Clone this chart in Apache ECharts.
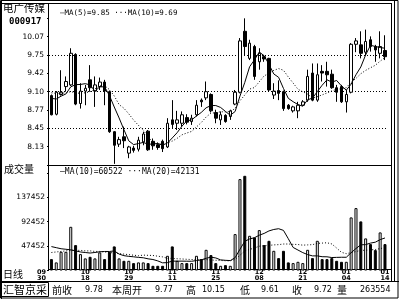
<!DOCTYPE html>
<html><head><meta charset="utf-8">
<script src="https://cdn.jsdelivr.net/npm/echarts@6/dist/echarts.min.js"></script>
<style>html,body{margin:0;padding:0;background:#fff;overflow:hidden}#c{width:399px;height:299px}</style>
</head><body><div id="c"></div>
<script>
// ---- data ----
const opens  = [9.03,8.70,9.05,9.19,9.22,9.76,8.89,9.11,9.31,9.11, 9.19,9.27,9.10,8.39,8.17,8.30,8.01,8.10,8.08,8.21, 8.40,8.22,8.16,8.22,8.12,8.60,8.54,8.54,8.64,8.57, 8.69,8.95,8.99,9.05,8.73,8.60,8.68,8.66,8.88,9.09, 10.17,9.69,9.90,9.63,9.72,9.69,9.04,9.12,9.10,8.86, 8.76,8.76,8.86,8.95,9.43,8.95,9.46,9.46,9.41,9.17, 9.19,8.92,9.09,9.94,9.93,9.80,10.02,9.90,9.78,9.83];
const closes = [8.69,9.09,9.09,9.28,9.78,8.88,9.11,9.16,9.17,9.22, 9.27,9.11,8.39,8.15,8.25,8.23,8.12,8.06,8.24,8.35, 8.07,8.14,8.11,8.09,8.54,8.52,8.60,8.69,8.56,8.63, 8.86,8.92,9.10,8.76,8.63,8.69,8.57,8.76,9.09,10.00, 9.90,9.96,9.37,9.78,9.68,9.13,9.11,9.07,8.80,8.80, 8.83,8.86,8.92,9.37,8.95,9.40,9.43,9.40,9.17,9.09, 8.92,9.05,9.94,10.00,9.78,9.99,9.90,9.84,9.90,9.72];
const lows   = [8.68,8.68,9.03,9.10,9.20,8.86,8.80,8.86,9.10,8.83, 9.13,8.86,8.37,7.82,8.12,8.10,7.92,8.02,8.04,8.15, 8.05,8.07,8.07,8.03,8.10,8.45,8.42,8.48,8.52,8.51, 8.66,8.83,8.95,8.73,8.54,8.51,8.55,8.60,8.86,9.07, 9.75,9.66,9.31,9.49,9.63,9.10,8.97,8.95,8.76,8.78, 8.73,8.63,8.85,8.92,8.93,8.92,9.28,9.19,9.15,8.92, 8.90,8.73,9.07,9.80,9.69,9.75,9.81,9.63,9.69,9.66];
const highs  = [9.05,9.11,9.48,9.37,9.87,9.78,9.25,9.22,9.57,9.37, 9.35,9.31,9.12,8.40,8.30,8.48,8.14,8.14,8.30,8.39, 8.42,8.27,8.20,8.25,8.63,8.95,8.76,8.75,8.70,8.69, 8.95,8.98,9.28,9.07,8.78,8.75,8.70,8.78,9.13,10.05, 10.40,10.02,9.93,9.87,9.75,9.70,9.25,9.30,9.12,8.88, 8.85,8.92,8.95,9.49,9.60,9.60,9.57,9.63,9.49,9.22, 9.22,9.13,9.96,10.05,10.17,10.20,10.08,9.93,10.17,10.10];
const volumes = [22726,16588,36304,36304,82804,48766,32026,24028,27004,24028, 35188,22726,36304,46348,24028,19564,19564,15286,16588,16588, 15286,10264,10264,10264,28864,46348,19564,15286,15286,15286, 28864,22726,40024,30166,15286,10264,11500,10264,69226,171526, 177652,66064,63088,76666,48766,56764,38164,24586,38164,16588, 15286,17704,15286,40024,24586,56764,22726,22726,24586,19564, 17704,17704,100288,117586,92848,61228,50626,39466,72388,50626];
// moving-average values at the left edge (window starts before the visible range)
const ma5Lead  = [8.98,8.97,9.02,9.06];
const ma10Lead = [9.08,9.07,9.07,9.08,9.10,9.08,9.07,9.08,9.10];
const vma10Lead = [46000,44000,42000,41000,40000,38000,36000,35000,34000];
const vma20Lead = [35000,36000,37000,38000,39000,39000,39000,38000,38000,37000,37000,36000,35000,34000,33000,32000,31000,30000,29000];
const dayLabels = opens.map((_, i) => 'D' + (i + 1));
const dateTickIndex = [0, 7, 16, 25, 34, 43, 52, 61, 69];
const dateTickText  = ['09\n30','10\n18','10\n29','11\n11','11\n25','12\n08','12\n21','01\n04','01\n14'];
const priceTickLabels = ['8.13','8.45','8.77','9.10','9.42','9.75','10.07'];
const priceGridLevels = [8.45, 9.10, 9.75];
const volTickLabels = ['47452','92452','137452'];

function movingAvg(arr, n, lead) {
  const out = [];
  for (let i = 0; i < arr.length; i++) {
    if (i < n - 1) { out.push(lead[i]); continue; }
    let s = 0; for (let k = i - n + 1; k <= i; k++) s += arr[k];
    out.push(+(s / n).toFixed(3));
  }
  return out;
}
const ma5 = movingAvg(closes, 5, ma5Lead);
const ma10 = movingAvg(closes, 10, ma10Lead);
const vma10 = movingAvg(volumes, 10, vma10Lead);
const vma20 = movingAvg(volumes, 20, vma20Lead);
const kData = opens.map((o, i) => [o, closes[i], lows[i], highs[i]]);

const num = 'DejaVu Sans';
const mono = 'DejaVu Sans Mono';
const cjk = 'Noto Sans CJK SC';
const GL = 49, GW = 338.4;

function txt(x, y, s, size, font, weight) {
  return { type: 'text', x: x, y: y, silent: true,
    style: { text: s, fill: '#000', font: (weight || '') + ' ' + size + 'px "' + font + '"', textVerticalAlign: 'middle' } };
}
function ln(x1, y1, x2, y2, w) {
  return { type: 'line', silent: true, shape: { x1: x1, y1: y1, x2: x2, y2: y2 }, style: { stroke: '#000', lineWidth: w || 1 } };
}

const chart = echarts.init(document.getElementById('c'));
chart.setOption({
  animation: false,
  backgroundColor: '#fff',
  grid: [
    { left: GL, top: 0, width: GW, height: 165 },
    { left: GL, top: 165, width: GW, height: 105 }
  ],
  xAxis: [
    { type: 'category', gridIndex: 0, data: dayLabels, boundaryGap: true,
      axisLine: { show: false }, axisTick: { show: false }, axisLabel: { show: false }, splitLine: { show: false } },
    { type: 'category', gridIndex: 1, data: dayLabels, boundaryGap: true,
      axisLine: { show: false }, axisTick: { show: false }, splitLine: { show: false },
      axisLabel: {
        show: true, margin: 0, color: '#000', fontFamily: num, fontSize: 6, lineHeight: 5,
        interval: (idx) => dateTickIndex.indexOf(idx) >= 0,
        formatter: (v, idx) => {
          const k = dateTickIndex.indexOf(idx);
          if (k < 0) return '';
          const parts = dateTickText[k].split('\n');
          const st = k === 0 ? 's' : 'c';
          return '{' + st + '|' + parts[0] + '}\n{' + st + '|' + parts[1] + '}';
        },
        rich: {
          s: { fontSize: 6.5, lineHeight: 5.5, fontFamily: num, fontWeight: 'bold', color: '#000', padding: [0, 20, 0, 0] },
          c: { fontSize: 6.5, lineHeight: 5.5, fontFamily: num, fontWeight: 'bold', color: '#000' }
        }
      } }
  ],
  yAxis: [
    { type: 'value', gridIndex: 0, min: 7.8, max: 10.725, interval: 0.325, scale: true,
      axisLine: { show: false }, splitLine: { show: false },
      axisTick: { show: true, length: 2, lineStyle: { color: '#000' } },
      axisLabel: { margin: 5, color: '#000', fontFamily: num, fontSize: 7.5,
        formatter: (v, idx) => priceTickLabels[idx - 1] || '' } },
    { type: 'value', gridIndex: 1, min: 2452, max: 197752, interval: 45000,
      axisLine: { show: false }, splitLine: { show: false },
      axisTick: { show: true, length: 2, lineStyle: { color: '#000' } },
      axisLabel: { margin: 4, color: '#000', fontFamily: num, fontSize: 7.5,
        formatter: (v, idx) => volTickLabels[idx - 1] || '' } }
  ],
  series: [
    { type: 'candlestick', xAxisIndex: 0, yAxisIndex: 0, data: kData, barWidth: 3,
      itemStyle: { color: '#fff', color0: '#000', borderColor: '#000', borderColor0: '#000', borderWidth: 1 },
      markLine: { silent: true, symbol: 'none', label: { show: false },
        lineStyle: { type: [1, 2], color: '#000', width: 1 },
        data: priceGridLevels.map(v => ({ yAxis: v })) } },
    { type: 'line', xAxisIndex: 0, yAxisIndex: 0, data: ma5, showSymbol: false,
      lineStyle: { color: '#000', width: 1 } },
    { type: 'line', xAxisIndex: 0, yAxisIndex: 0, data: ma10, showSymbol: false,
      lineStyle: { color: '#000', width: 1, type: [1, 2] } },
    { type: 'bar', xAxisIndex: 1, yAxisIndex: 1, data: volumes, barWidth: 3,
      itemStyle: { borderColor: '#000', borderWidth: 1,
        color: (p) => closes[p.dataIndex] >= opens[p.dataIndex] ? '#fff' : '#000' } },
    { type: 'line', xAxisIndex: 1, yAxisIndex: 1, data: vma10, showSymbol: false,
      lineStyle: { color: '#000', width: 1 } },
    { type: 'line', xAxisIndex: 1, yAxisIndex: 1, data: vma20, showSymbol: false,
      lineStyle: { color: '#000', width: 1, type: [1, 2] } }
  ],
  graphic: [
    { type: 'rect', silent: true, shape: { x: 0.5, y: 0.5, width: 397.5, height: 297.5 }, style: { fill: 'none', stroke: '#000', lineWidth: 1 } },
    ln(1.5, 0, 1.5, 299, 1),
    ln(0, 3.5, 392, 3.5),
    ln(391.5, 3, 391.5, 282),
    ln(394.5, 0, 394.5, 282),
    ln(48.5, 3, 48.5, 270),
    ln(48, 165.5, 392, 165.5),
    ln(48, 269.5, 392, 269.5),
    ln(0, 281.5, 399, 281.5),
    { type: 'rect', silent: true, shape: { x: 1.5, y: 282.5, width: 47, height: 14 }, style: { fill: 'none', stroke: '#000', lineWidth: 1 } },
    txt(3, 8, '电广传媒', 10.5, cjk),
    txt(9, 22, '000917', 9, mono, 'bold'),
    txt(60, 13, '—MA(5)=9.85 ···MA(10)=9.69', 7.5, mono),
    txt(4, 169, '成交量', 10, cjk),
    txt(60, 172, '—MA(10)=60522 ···MA(20)=42131', 8, mono),
    txt(3, 274, '日线', 10, cjk),
    txt(3, 290, '汇智京采', 11, cjk),
    txt(52, 290, '前收', 10, cjk),
    txt(85, 290, '9.78', 8, num),
    txt(112, 290, '本周开', 10, cjk),
    txt(155, 290, '9.77', 8, num),
    txt(186, 290, '高', 10, cjk),
    txt(202, 290, '10.15', 8, num),
    txt(240, 290, '低', 10, cjk),
    txt(261, 290, '9.61', 8, num),
    txt(292, 290, '收', 10, cjk),
    txt(314, 290, '9.72', 8, num),
    txt(337, 290, '量', 10, cjk),
    txt(360, 290, '263554', 8, num)
  ]
});
</script>
</body></html>
